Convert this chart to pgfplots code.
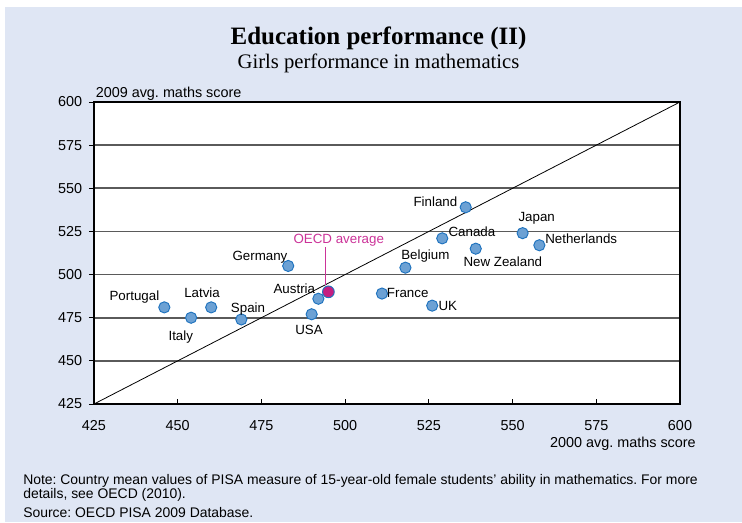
\documentclass[border=0pt]{standalone}
\usepackage{fontspec}
\setmainfont{Liberation Sans}
\newfontfamily\serif{Liberation Serif}
\usepackage{pgfplots}
\pgfplotsset{compat=1.18}
\frenchspacing

\definecolor{panel}{RGB}{223,230,244}
\definecolor{ptfill}{RGB}{108,161,212}
\definecolor{ptedge}{RGB}{30,114,190}
\definecolor{oecd}{RGB}{196,30,128}
\definecolor{oecdtxt}{RGB}{204,51,153}
\definecolor{gridc}{RGB}{90,90,90}

\begin{document}
\begin{tikzpicture}
% page and panel, in pixels of the reference (axis origin at 0,0)
\begin{scope}[x=0.75pt,y=0.75pt]
  \useasboundingbox (-94,-118) rectangle (648,404);
  \fill[white] (-94,-118) rectangle (648,404);
  \fill[panel] (-89,-118) rectangle (648,397);
\end{scope}

\begin{axis}[
    at={(0,0)}, anchor=origin,
    scale only axis,
    width=439.5pt, height=226.5pt,
    xmin=425, xmax=600, ymin=425, ymax=600,
    xtick={425,450,...,600}, ytick={425,450,...,600},
    xtick pos=bottom, ytick pos=left,
    xtick align=inside, ytick align=outside,
    major tick length=3.75pt,
    tick style={black, line width=0.6pt},
    axis line style={black, line width=0.8pt},
    axis background/.style={fill=white},
    ymajorgrids,
    major grid style={gridc, line width=1.2pt},
    /pgf/number format/assume math mode=true,
    ticklabel style={font=\fontsize{10.8}{12}\selectfont, inner sep=0pt},
    xticklabel style={anchor=north, yshift=-12.5pt},
    yticklabel style={anchor=east},
    yticklabel shift=5pt,
    clip=false,
]
\addplot[black, line width=0.6pt] coordinates {(425,425) (600,600)};

\addplot[only marks, mark=*, mark size=4.2pt,
    mark options={fill=ptfill, draw=ptedge, line width=0.7pt}]
    coordinates {
    (446,481) % Portugal
    (454,475) % Italy
    (460,481) % Latvia
    (469,474) % Spain
    (483,505) % Germany
    (490,477) % USA
    (492,486) % Austria
    (511,489) % France
    (518,504) % Belgium
    (526,482) % UK
    (529,521) % Canada
    (536,539) % Finland
    (539,515) % New Zealand
    (553,524) % Japan
    (558,517) % Netherlands
    };

\addplot[only marks, mark=*, mark size=4.4pt,
    mark options={fill=oecd, draw=ptedge, line width=0.7pt}]
    coordinates {(495,490)};
\end{axis}

% labels, in pixels of the reference
\begin{scope}[x=0.75pt,y=0.75pt,
    lab/.style={inner sep=0pt, anchor=base west, font=\fontsize{10}{12}\selectfont}]
  \node[lab] at (15.3,103.3) {Portugal};
  \node[lab] at (90,106.3) {Latvia};
  \node[lab] at (136.7,91.7) {Spain};
  \node[lab] at (74.3,64) {Italy};
  \node[lab] at (138.3,143.3) {Germany};
  \node[lab] at (179.3,110.7) {Austria};
  \node[lab] at (201,70) {USA};
  \node[lab] at (292.7,107) {France};
  \node[lab] at (319.3,198) {Finland};
  \node[lab] at (354.3,168) {Canada};
  \node[lab] at (424.3,182.3) {Japan};
  \node[lab] at (451,160.7) {Netherlands};
  \node[lab] at (307,145) {Belgium};
  \node[lab] at (369.3,138) {New Zealand};
  \node[lab] at (344.3,94) {UK};
  \node[lab, text=oecdtxt] at (199.3,160.7) {OECD average};
  \draw[oecdtxt, line width=0.6pt] (231,157) -- (231,119);

  \node[inner sep=0pt, anchor=base, font=\serif\bfseries\fontsize{18.75}{22}\selectfont]
    at (284.5,359.7) {Education performance (II)};
  \node[inner sep=0pt, anchor=base, font=\serif\fontsize{15.5}{18}\selectfont]
    at (284.5,335) {Girls performance in mathematics};
  \node[inner sep=0pt, anchor=base west, font=\fontsize{10.8}{12}\selectfont]
    at (1.5,306.7) {2009 avg. maths score};
  \node[inner sep=0pt, anchor=base east, font=\fontsize{10.8}{12}\selectfont]
    at (602,-43.7) {2000 avg. maths score};
  \node[inner sep=0pt, anchor=base west, font=\fontsize{10.45}{12}\selectfont]
    at (-71,-80) {Note: Country mean values of PISA measure of 15-year-old female students' ability in mathematics. For more};
  \node[inner sep=0pt, anchor=base west, font=\fontsize{10.45}{12}\selectfont]
    at (-71,-94) {details, see OECD (2010).};
  \node[inner sep=0pt, anchor=base west, font=\fontsize{10.45}{12}\selectfont]
    at (-71,-113) {Source: OECD PISA 2009 Database.};
\end{scope}
\end{tikzpicture}
\end{document}
